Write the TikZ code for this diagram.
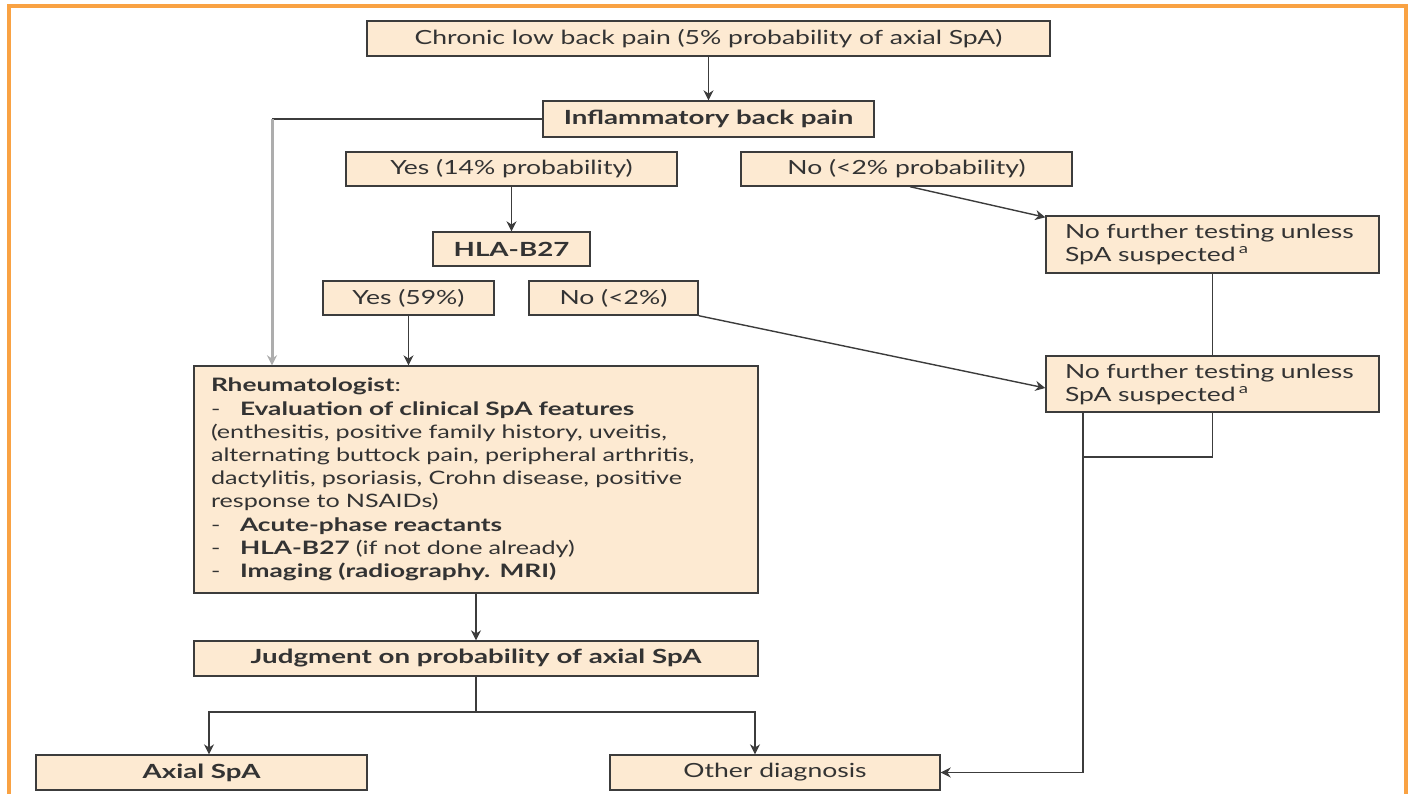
\documentclass[tikz,border=0pt]{standalone}
\usepackage{fontspec}
\setmainfont{Lato}[FakeStretch=1.36, BoldFeatures={FakeStretch=1.42}]
\usetikzlibrary{arrows.meta,calc}
\definecolor{boxfill}{HTML}{FDEAD2}
\definecolor{boxline}{HTML}{3C3C3C}
\definecolor{frameorange}{HTML}{F9A243}
\definecolor{txt}{HTML}{333333}
\definecolor{lightline}{HTML}{ADADAD}
\tikzset{
  fbox/.style={draw=boxline, fill=boxfill, line width=1.4pt, inner sep=0pt, text=txt,
    font=\fontsize{19.5}{23}\selectfont},
  bbox/.style={fbox, font=\fontsize{19.5}{23}\selectfont\bfseries},
  conn/.style={draw=boxline, line width=1.4pt},
  arr/.style={conn, -{Stealth[length=10pt,width=10pt]}},
}
\begin{document}
\begin{tikzpicture}[x=1pt,y=-1pt]
\useasboundingbox (0,0) rectangle (1413,793);
\begin{scope}
\clip (0,0) rectangle (1413,793);
\draw[frameorange, line width=4pt] (9,800) -- (9,6) -- (1406,6) -- (1406,800);
\end{scope}

\node[fbox, minimum width=683pt, minimum height=35pt] (chronic) at (708.5,38.5) {Chronic low back pain (5\% probability of axial SpA)};
\node[bbox, minimum width=331pt, minimum height=36pt] (ibp) at (708.5,119) {Inflammatory back pain};
\node[fbox, minimum width=331pt, minimum height=34pt] (yes14) at (511.5,169) {Yes (14\% probability)};
\node[fbox, minimum width=331pt, minimum height=34pt] (no2p) at (906.5,169) {No (<2\% probability)};
\node[bbox, minimum width=157pt, minimum height=34pt] (hla) at (511.5,249) {HLA-B27};
\node[fbox, minimum width=333pt, minimum height=57pt, text width=295pt, align=left] (nft1) at (1212.5,244.5) {No further testing unless\\SpA suspected\,\textsuperscript{a}};
\node[fbox, minimum width=171pt, minimum height=34pt] (yes59) at (408.5,298) {Yes (59\%)};
\node[fbox, minimum width=169pt, minimum height=34pt] (no2) at (613.5,298) {No (<2\%)};
\node[fbox, minimum width=333pt, minimum height=56pt, text width=295pt, align=left] (nft2) at (1212.5,384) {No further testing unless\\SpA suspected\,\textsuperscript{a}};
\node[fbox, minimum width=564pt, minimum height=227pt, text width=530pt, align=left, font=\fontsize{18.5}{23.2}\selectfont] (rheum) at (476,479.5) {%
\textbf{Rheumatologist}:\\
\makebox[29pt][l]{-}\textbf{Evaluation of clinical SpA features}\\
(enthesitis, positive family history, uveitis,\\
alternating buttock pain, peripheral arthritis,\\
dactylitis, psoriasis, Crohn disease, positive\\
response to NSAIDs)\\
\makebox[29pt][l]{-}\textbf{Acute-phase reactants}\\
\makebox[29pt][l]{-}\textbf{HLA-B27} (if not done already)\\
\makebox[29pt][l]{-}\textbf{Imaging (radiography. MRI)}};
\node[bbox, minimum width=564pt, minimum height=35pt] (judg) at (476,658.5) {Judgment on probability of axial SpA};
\node[bbox, minimum width=331pt, minimum height=35pt] (axial) at (201.5,772.5) {Axial SpA};
\node[fbox, minimum width=330pt, minimum height=35pt] (other) at (775,772.5) {Other diagnosis};

\coordinate (ibpcorner) at (272,119);
\coordinate (split) at (476,712);
\coordinate (merge) at (1083,457);

\draw[arr] (chronic.south) -- (ibp.north);
\draw[conn] (ibp.west) -- (ibpcorner);
\draw[draw=lightline, line width=3pt, -{Stealth[length=10pt,width=10pt]}] (ibpcorner) -- (ibpcorner |- rheum.north);
\draw[arr] (yes14.south) -- (hla.north);
\draw[arr] ([xshift=3.5pt]no2p.south) -- ([yshift=-2pt]nft1.north west);
\draw[arr] (no2.south east) -- ([yshift=-4pt]nft2.west);
\draw[conn] (nft1.south) -- (nft2.north);
\draw[conn] (nft2.south) |- (merge);
\draw[arr] (merge |- nft2.south) -- (merge) |- (other.east);
\draw[arr] (yes59.south) -- (yes59.south |- rheum.north);
\draw[arr] (rheum.south) -- (judg.north);
\draw[conn] (judg.south) -- (split);
\draw[arr] (split) -| ([xshift=7.5pt]axial.north);
\draw[arr] (split) -| ([xshift=-20pt]other.north);
\end{tikzpicture}
\end{document}
